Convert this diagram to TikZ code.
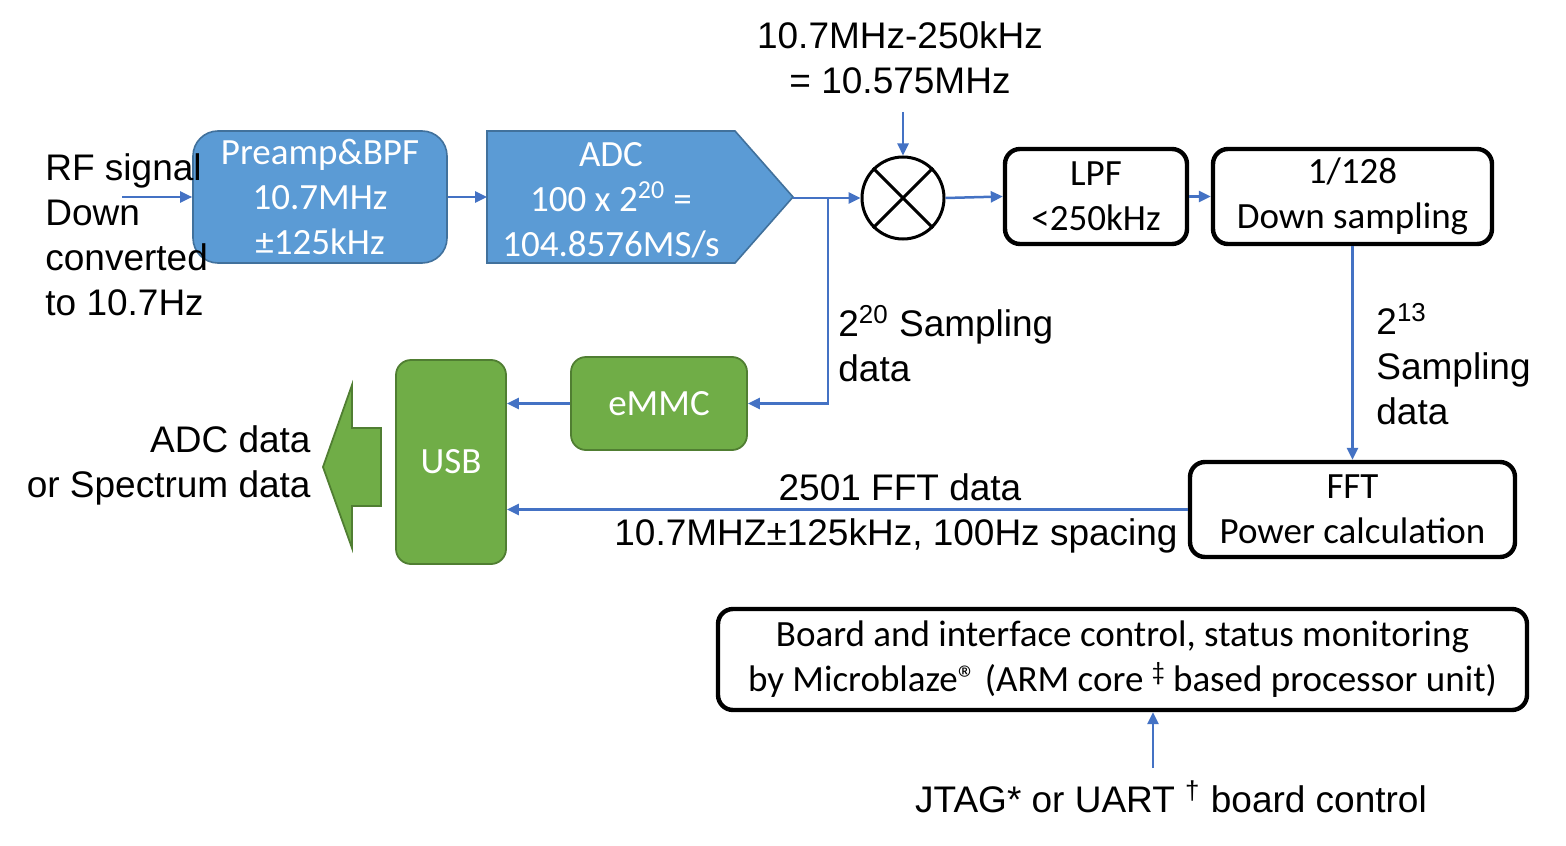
\documentclass[tikz,border=0pt]{standalone}
\usepackage{fontspec}
\setmainfont{Liberation Sans}
\newfontfamily\calfont{Carlito}
\usetikzlibrary{arrows.meta,shapes.geometric}
\definecolor{arrowblue}{HTML}{4472C4}
\definecolor{boxblue}{HTML}{5B9BD5}
\definecolor{boxblueline}{HTML}{41719C}
\definecolor{boxgreen}{HTML}{70AD47}
\definecolor{boxgreenline}{HTML}{507E32}
\begin{document}
\begin{tikzpicture}[x=0.5pt,y=-0.5pt,
  lab/.style={font=\fontsize{18.5}{22.5}\selectfont, inner sep=0pt},
  boxtxt/.style={font=\calfont\fontsize{18.5}{22.5}\selectfont, align=center, inner sep=0pt},
  bluebox/.style={boxtxt, fill=boxblue, draw=boxblueline, line width=0.8pt, text=white},
  greenbox/.style={boxtxt, fill=boxgreen, draw=boxgreenline, line width=0.9pt, text=white, rounded corners=7.5pt},
  blk/.style={boxtxt, draw=black, line width=2.2pt, rounded corners=7.5pt},
  arr/.style={draw=arrowblue, line width=1.25pt, -{Triangle[length=6pt,width=5.5pt]}}
]
\useasboundingbox (0,0) rectangle (1566,845);
\fill[white] (0,0) rectangle (1566,845);

% blue blocks
\node[bluebox, rounded corners=12.5pt, minimum width=127pt, minimum height=66pt] (pre) at (320,197)
  {Preamp\&BPF\\10.7MHz\\±125kHz};
\draw[fill=boxblue, draw=boxblueline, line width=0.8pt] (487,131) -- (735,131) -- (793,197) -- (735,263) -- (487,263) -- cycle;
\node[boxtxt, text=white] (adc) at (611,200) {ADC\\100 x 2\textsuperscript{20} =\\104.8576MS/s};
\coordinate (adcW) at (487,197);
\coordinate (adcTip) at (793,198);

% mixer
\node[circle, draw=black, line width=1.5pt, minimum size=41pt, inner sep=0pt] (mix) at (903,198) {};
\draw[line width=1.5pt] (mix.45) -- (mix.225) (mix.135) -- (mix.-45);

% black blocks
\node[blk, minimum width=91pt, minimum height=47.5pt] (lpf) at (1096,196.5) {LPF\\<250kHz};
\node[blk, minimum width=139.5pt, minimum height=47.5pt] (ds) at (1352.5,196.5) {1/128\\Down sampling};
\node[blk, minimum width=162.5pt, minimum height=47.5pt] (fft) at (1352.5,509.5) {FFT\\Power calculation};
\node[blk, minimum width=404.5pt, minimum height=50.5pt] (board) at (1122.5,659.5)
  {Board and interface control, status monitoring\\by Microblaze® (ARM core \raisebox{0.3em}{\fontsize{13}{13}\selectfont ‡} based processor unit)};

% green blocks
\node[greenbox, minimum width=55pt, minimum height=102pt] (usb) at (451,462) {USB};
\node[greenbox, minimum width=88pt, minimum height=46.5pt] (emmc) at (659,403.5) {eMMC};
\draw[fill=boxgreen, draw=boxgreenline, line width=0.9pt] (323,467) -- (352,385) -- (352,428) -- (381,428) -- (381,506) -- (352,506) -- (352,548) -- cycle;

% connectors
\coordinate (rfin) at (122,197);
\draw[arr] (rfin) -- (pre.west);
\draw[arr] (pre.east) -- (adcW);
\draw[arr] (adcTip) -- (mix.west);
\coordinate (br) at (828,198);
\draw[arr] (br) |- (emmc.east);
\draw[arr] (emmc.west) -- (emmc.west -| usb.east);
\coordinate (lo) at (903,112);
\draw[arr] (lo) -- (mix.north);
\draw[arr] (mix.east) -- (lpf.west);
\draw[arr] (lpf.east) -- (ds.west);
\draw[arr] (ds.south) -- (fft.north);
\draw[arr] (fft.west) -- (fft.west -| usb.east);
\coordinate (jt) at (1153,768);
\draw[arr] (jt) -- (jt |- board.south);

% labels (base anchor = baseline of last line)
\node[lab, align=left, anchor=base west] (rflab) at (45,315) {RF signal\\Down\\converted\\to 10.7Hz};
\node[lab, align=center, anchor=base] (lolab) at (900,94) {10.7MHz-250kHz\\= 10.575MHz};
\node[lab, align=left, anchor=base west] (s20) at (838,381) {2\textsuperscript{20} Sampling\\data};
\node[lab, align=left, anchor=base west] (s13) at (1376,424) {2\textsuperscript{13}\\Sampling\\data};
\node[lab, align=right, anchor=base east] (outlab) at (311,497) {ADC data\\or Spectrum data};
\node[lab, align=center, anchor=base] (fftlab1) at (900,500) {2501 FFT data};
\node[lab, align=center, anchor=base] (fftlab2) at (896,545) {10.7MHZ±125kHz, 100Hz spacing};
\node[lab, anchor=base] (jtlab) at (1171,812) {JTAG* or UART \textsuperscript{†} board control};
\end{tikzpicture}
\end{document}
